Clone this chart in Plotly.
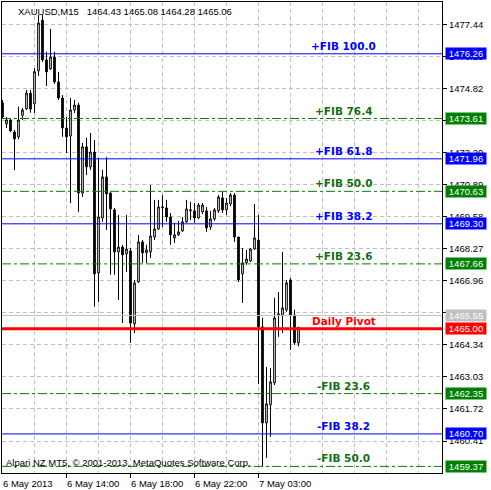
import plotly.graph_objects as go

# ---------------- data ----------------
opens = [1474.25, 1473.39, 1473.55, 1473.06, 1472.86, 1473.74, 1474.00, 1474.65, 1474.21, 1475.56,
         1477.64, 1476.01, 1475.64, 1476.13, 1475.11, 1474.45, 1473.22, 1472.90, 1473.96, 1474.16,
         1470.56, 1472.45, 1471.63, 1472.24, 1467.29, 1469.54, 1471.22, 1470.56, 1469.87, 1468.15,
         1468.35, 1468.07, 1468.19, 1465.20, 1466.92, 1468.56, 1468.11, 1468.15, 1468.76, 1469.09,
         1469.95, 1469.95, 1469.58, 1468.72, 1468.85, 1469.01, 1469.38, 1469.83, 1469.83, 1469.54,
         1469.79, 1469.83, 1469.17, 1469.50, 1469.83, 1470.36, 1469.87, 1470.11, 1470.48, 1468.76,
         1467.25, 1467.70, 1467.78, 1468.27, 1468.64, 1465.08, 1461.15, 1461.89, 1462.79, 1465.57,
         1465.57, 1465.78, 1467.00, 1465.57, 1464.43]
highs = [1474.37, 1473.67, 1473.63, 1473.14, 1474.10, 1474.04, 1474.78, 1474.78, 1475.67, 1477.85,
         1477.85, 1476.34, 1477.28, 1476.34, 1475.52, 1474.57, 1473.67, 1474.45, 1474.37, 1474.25,
         1472.61, 1472.82, 1473.02, 1472.73, 1472.00, 1471.51, 1472.04, 1470.60, 1469.95, 1469.66,
         1468.44, 1469.66, 1468.31, 1467.00, 1468.84, 1468.64, 1468.44, 1470.89, 1470.28, 1470.28,
         1470.48, 1470.28, 1469.74, 1469.34, 1469.42, 1469.58, 1470.28, 1470.20, 1470.15, 1470.15,
         1470.15, 1469.99, 1469.83, 1469.95, 1470.48, 1470.60, 1470.36, 1470.56, 1470.56, 1468.76,
         1468.31, 1468.23, 1468.31, 1470.11, 1469.66, 1465.45, 1463.44, 1463.40, 1466.27, 1466.51,
         1468.15, 1467.00, 1467.08, 1465.78, 1465.08]
lows = [1473.63, 1473.22, 1473.06, 1471.50, 1472.76, 1473.55, 1473.96, 1473.85, 1473.83, 1475.35,
        1475.93, 1474.94, 1475.60, 1475.03, 1474.37, 1472.86, 1472.20, 1470.15, 1473.84, 1469.79,
        1470.40, 1471.30, 1471.51, 1465.90, 1466.10, 1469.38, 1469.05, 1467.21, 1467.21, 1466.18,
        1465.24, 1467.33, 1464.42, 1464.83, 1466.88, 1467.70, 1467.70, 1467.90, 1468.64, 1469.05,
        1469.17, 1469.38, 1468.44, 1468.52, 1468.80, 1468.97, 1469.34, 1469.45, 1469.34, 1469.50,
        1469.70, 1468.97, 1469.05, 1469.42, 1469.75, 1469.75, 1469.66, 1470.03, 1468.56, 1466.92,
        1466.06, 1467.62, 1467.74, 1468.23, 1462.74, 1459.35, 1459.72, 1460.58, 1462.70, 1464.67,
        1464.83, 1465.70, 1464.14, 1464.34, 1464.28]
closes = [1473.67, 1473.55, 1473.10, 1472.77, 1473.55, 1473.96, 1474.65, 1474.00, 1475.53, 1477.52,
          1476.01, 1475.52, 1476.13, 1475.11, 1474.45, 1473.22, 1472.86, 1473.96, 1474.16, 1470.56,
          1472.45, 1471.63, 1472.24, 1467.25, 1469.58, 1471.22, 1470.52, 1469.91, 1468.15, 1468.35,
          1468.03, 1468.27, 1465.24, 1466.88, 1468.56, 1468.11, 1468.23, 1468.80, 1469.09, 1469.99,
          1469.99, 1469.58, 1468.85, 1468.85, 1468.97, 1469.38, 1469.91, 1469.87, 1469.54, 1470.07,
          1470.07, 1469.13, 1469.50, 1469.87, 1470.40, 1469.87, 1470.15, 1470.48, 1468.76, 1467.00,
          1467.70, 1467.86, 1468.27, 1468.72, 1465.08, 1461.15, 1461.93, 1462.83, 1465.45, 1465.61,
          1465.86, 1466.88, 1465.57, 1464.43, 1465.06]

time_tick_bars = [0, 16, 32, 48, 64]
time_tick_labels = ["6 May 2013", "6 May 14:00", "6 May 18:00", "6 May 22:00", "7 May 03:00"]

price_ticks = [1460.41, 1461.72, 1463.03, 1464.34, 1465.65, 1466.96, 1468.27,
               1469.58, 1470.89, 1472.20, 1473.51, 1474.82, 1476.13, 1477.44]

level_names = ["+FIB 100.0", "+FIB 76.4", "+FIB 61.8", "+FIB 50.0", "+FIB 38.2", "+FIB 23.6",
               "Daily Pivot", "-FIB 23.6", "-FIB 38.2", "-FIB 50.0"]
level_values = [1476.26, 1473.61, 1471.96, 1470.63, 1469.30, 1467.66,
                1465.00, 1462.35, 1460.70, 1459.37]
level_kinds = ["blue", "green", "blue", "green", "blue", "green", "red", "green", "blue", "green"]

current_line = 1465.55

title_text = "XAUUSD,M15\u00a0\u00a0 1464.43 1465.08 1464.28 1465.06"
copyright_text = "Alpari NZ MT5, \u00a9 2001-2013, MetaQuotes Software Corp."

# ---------------- styles ----------------
STYLE = {
    "blue": dict(line="#0000ff", text="#0000ff", box="#0000ff", width=1, dash="solid"),
    "green": dict(line="#008000", text="#107010", box="#008000", width=1, dash="9px,3px,3px,3px"),
    "red": dict(line="#ff0000", text="#ff0000", box="#ff0000", width=3, dash="solid"),
}
FONT = "Liberation Sans, Arial, sans-serif"
FS = 9.5

bars = list(range(len(opens)))

fig = go.Figure()
fig.add_trace(go.Candlestick(
    x=bars, open=opens, high=highs, low=lows, close=closes,
    increasing=dict(fillcolor="#ffffff", line=dict(color="#000000", width=1)),
    decreasing=dict(fillcolor="#000000", line=dict(color="#000000", width=1)),
    whiskerwidth=0, showlegend=False, hoverinfo="skip",
))

shapes = []
annotations = []

# current price (grey) line
shapes.append(dict(type="line", xref="paper", x0=0, x1=1, yref="y", y0=current_line, y1=current_line,
                   line=dict(color="#c0c0c0", width=1), layer="above"))
annotations.append(dict(xref="paper", x=1, xanchor="left", xshift=3, yref="y", y=current_line,
                        yanchor="middle", text=f"{current_line:.2f}", showarrow=False,
                        bgcolor="#c0c0c0", font=dict(family=FONT, size=FS, color="#ffffff"),
                        width=40, height=11, borderpad=0))

for name, val, kind in zip(level_names, level_values, level_kinds):
    st = STYLE[kind]
    shapes.append(dict(type="line", xref="paper", x0=0, x1=1, yref="y", y0=val, y1=val,
                       line=dict(color=st["line"], width=st["width"], dash=st["dash"]), layer="above"))
    annotations.append(dict(xref="paper", x=0.777, xanchor="center", yref="y", y=val,
                            yanchor="middle", yshift=8, text=f"<b>{name}</b>", showarrow=False,
                            font=dict(family="DejaVu Sans, sans-serif", size=10.5, color=st["text"])))
    annotations.append(dict(xref="paper", x=1, xanchor="left", xshift=3, yref="y", y=val,
                            yanchor="middle", text=f"{val:.2f}", showarrow=False,
                            bgcolor=st["box"], font=dict(family=FONT, size=FS, color="#ffffff"),
                            width=40, height=11, borderpad=0))

# time labels (left aligned, MetaTrader style) with small tick marks
for b, lab in zip(time_tick_bars, time_tick_labels):
    annotations.append(dict(xref="x", x=b, xanchor="left", xshift=-1.5, yref="paper", y=0,
                            yanchor="top", yshift=-3, text=lab, showarrow=False,
                            font=dict(family=FONT, size=FS, color="#000000")))
    if b > 0:
        shapes.append(dict(type="line", xref="x", x0=b, x1=b, yref="paper", y0=0, y1=-5 / 471,
                           line=dict(color="#000000", width=1)))

annotations.append(dict(xref="paper", x=0, xanchor="left", xshift=14, yref="paper", y=1,
                        yanchor="top", yshift=-2, text=title_text, showarrow=False,
                        font=dict(family=FONT, size=FS, color="#000000")))
annotations.append(dict(xref="paper", x=0, xanchor="left", xshift=2, yref="paper", y=0,
                        yanchor="bottom", yshift=3, text=copyright_text, showarrow=False,
                        font=dict(family=FONT, size=FS, color="#000000")))

fig.update_layout(
    width=491, height=490,
    margin=dict(l=2, r=49, t=2, b=17),
    paper_bgcolor="#ffffff", plot_bgcolor="#ffffff",
    boxgap=0.4,
    showlegend=False,
    shapes=shapes, annotations=annotations,
    xaxis=dict(range=[-0.125, 109.875], rangeslider=dict(visible=False),
               tickvals=list(range(8, 110, 8)), showticklabels=False, ticks="",
               showgrid=True, gridcolor="#c0c0c0", griddash="4px,3px", gridwidth=1,
               showline=True, linecolor="#000000", linewidth=1, mirror=True, zeroline=False,
               fixedrange=True),
    yaxis=dict(range=[1459.10, 1478.38], side="right",
               tickvals=price_ticks, ticktext=[f"{v:.2f}" for v in price_ticks],
               ticks="outside", ticklen=4, tickcolor="#000000",
               tickfont=dict(family=FONT, size=FS, color="#000000"),
               showgrid=True, gridcolor="#c0c0c0", griddash="4px,3px", gridwidth=1,
               showline=True, linecolor="#000000", linewidth=1, mirror=True, zeroline=False,
               fixedrange=True),
)

fig.write_html("out.html", config={"displayModeBar": False},
               post_script="document.body.style.margin='0';document.body.style.overflow='hidden';")
